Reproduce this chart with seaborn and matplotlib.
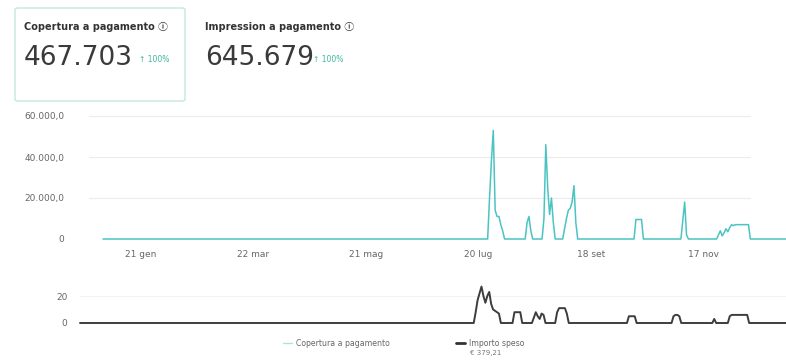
import numpy as np
import pandas as pd
import seaborn as sns
import matplotlib.pyplot as plt
from matplotlib.lines import Line2D
from matplotlib.patches import FancyBboxPatch

# day of year (0 = 1 gen 2023) -> value, all other days are 0
cop_days = [204, 205, 206, 207, 208, 209, 210, 211, 212, 213, 214,
            225, 226, 227, 228, 229,
            234, 235, 236, 237, 238, 239, 240, 241,
            245, 246, 247, 248, 249, 250, 251, 252, 253,
            283, 284, 285, 286, 287, 288,
            308, 309, 310, 311, 312,
            327, 328, 329, 330, 331, 332, 333, 334, 335, 336, 337, 338,
            339, 340, 341, 342, 343, 344, 345]
cop_vals = [0, 0, 20000, 38000, 53000, 14000, 11000, 11000, 7000, 4000, 0,
            0, 8000, 11000, 4000, 0,
            0, 10000, 46000, 25000, 12000, 20000, 8000, 0,
            0, 5000, 10000, 14000, 15000, 18000, 26000, 8000, 0,
            0, 9500, 9500, 9500, 9500, 0,
            0, 9000, 18000, 2000, 0,
            0, 2000, 4000, 1500, 3000, 5000, 3500, 5500, 7000, 6500, 7000, 7000,
            7000, 7000, 7000, 7000, 7000, 7000, 0]

spend_days = [203, 204, 205, 206, 207, 208, 209, 210, 211, 212, 213, 214, 215, 216, 217,
              223, 224, 225, 226, 227, 228,
              233, 234, 235, 236, 237, 238, 239, 240,
              245, 246, 247, 248, 249, 250, 251, 252,
              282, 283, 284, 285, 286, 287,
              305, 306, 307, 308, 309, 310,
              326, 327, 328,
              334, 335, 336, 337, 338, 339, 340, 341, 342, 343, 344, 345]
spend_vals = [0, 8, 17, 22, 27, 20, 15, 20, 23, 14, 10, 9, 8, 7, 0,
              0, 8, 8, 8, 8, 0,
              0, 4, 8, 5, 3, 7, 6, 0,
              0, 8, 11, 11, 11, 11, 7, 0,
              0, 5, 5, 5, 5, 0,
              0, 5, 6, 6, 5, 0,
              0, 3, 0,
              0, 5, 6, 6, 6, 6, 6, 6, 6, 6, 6, 0]

tick_dates = ['2023-01-21', '2023-03-22', '2023-05-21', '2023-07-20', '2023-09-18', '2023-11-17']
tick_names = ['21 gen', '22 mar', '21 mag', '20 lug', '18 set', '17 nov']

dates = pd.date_range('2023-01-01', '2023-12-31', freq='D')
copertura = np.zeros(len(dates))
copertura[cop_days] = cop_vals
spesa = np.zeros(len(dates))
spesa[spend_days] = spend_vals

sns.set_theme(style='white')
plt.rcParams['font.family'] = ['DejaVu Sans', 'Noto Sans CJK SC']

W, H = 786, 364
fig = plt.figure(figsize=(W / 100, H / 100), dpi=100)

teal = '#4cc3c3'
grey_txt = '#666666'

# top chart
ax1 = fig.add_axes([103 / W, 1 - 239 / H, 683 / W, 123 / H])
for v in [20000, 40000, 60000]:
    ax1.axhline(v, xmin=-0.02, xmax=0.947, color='#ececec', lw=0.8, clip_on=False, zorder=0)
sns.lineplot(x=dates, y=copertura, ax=ax1, color=teal, lw=1.1, legend=False)
for l in ax1.lines:
    l.set_clip_on(False)
ax1.set_xlim(dates[0], dates[-1])
ax1.set_ylim(0, 60000)
ax1.set_yticks([0, 20000, 40000, 60000])
ax1.set_yticklabels(['0', '20.000,0', '40.000,0', '60.000,0'])
ax1.set_xticks(pd.to_datetime(tick_dates))
ax1.set_xticklabels(tick_names)
ax1.set_xlabel('')
ax1.set_ylabel('')
ax1.tick_params(axis='y', length=0, pad=28, labelsize=6.5, labelcolor=grey_txt)
ax1.tick_params(axis='x', length=0, pad=8, labelsize=6.5, labelcolor=grey_txt)
sns.despine(ax=ax1, left=True, bottom=True)
ax1.patch.set_alpha(0)

# bottom chart
ax2 = fig.add_axes([80 / W, 1 - 323 / H, 706 / W, 40.5 / H])
ax2.axhline(20, color='#f3f3f3', lw=0.8, zorder=0)
sns.lineplot(x=dates, y=spesa, ax=ax2, color='#3d3d3d', lw=1.4, legend=False)
for l in ax2.lines:
    l.set_clip_on(False)
ax2.set_xlim(dates[0], dates[-1])
ax2.set_ylim(0, 30)
ax2.set_yticks([0, 20])
ax2.set_xticks([])
ax2.set_xlabel('')
ax2.set_ylabel('')
ax2.tick_params(axis='y', length=0, pad=9, labelsize=6.5, labelcolor=grey_txt)
sns.despine(ax=ax2, left=True, bottom=True)
ax2.patch.set_alpha(0)

# legend
handles = [Line2D([], [], color='#b8dcd8', lw=1), Line2D([], [], color='#333333', lw=2)]
fig.legend(handles, ['Copertura a pagamento', 'Importo speso'], ncol=2, frameon=False,
           loc='center left', bbox_to_anchor=(276 / W, 1 - 343 / H), fontsize=5.6,
           handlelength=1.2, handletextpad=0.5, columnspacing=8.5, labelcolor=grey_txt)
fig.text(470 / W, 1 - 353 / H, '€ 379,21', fontsize=5, color='#777777', va='center')

# header cards
card = FancyBboxPatch((15 / W, 1 - 101 / H), 170 / W, 93 / H, boxstyle='round,pad=0,rounding_size=0.004',
                      transform=fig.transFigure, edgecolor='#c3e7e1', facecolor='none', lw=1)
fig.patches.append(card)
fig.text(24 / W, 1 - 27 / H, 'Copertura a pagamento ⓘ', fontsize=7, weight='bold', color='#333333', va='center')
fig.text(24 / W, 1 - 58 / H, '467.703', fontsize=19, color='#3a3a3a', va='center')
fig.text(139 / W, 1 - 60 / H, '↑ 100%', fontsize=5.5, color='#3fb59e', va='center')
fig.text(205 / W, 1 - 27 / H, 'Impression a pagamento ⓘ', fontsize=7, weight='bold', color='#333333', va='center')
fig.text(205 / W, 1 - 58 / H, '645.679', fontsize=19, color='#3a3a3a', va='center')
fig.text(313 / W, 1 - 60 / H, '↑ 100%', fontsize=5.5, color='#3fb59e', va='center')

fig.savefig('out.png', dpi=100)
